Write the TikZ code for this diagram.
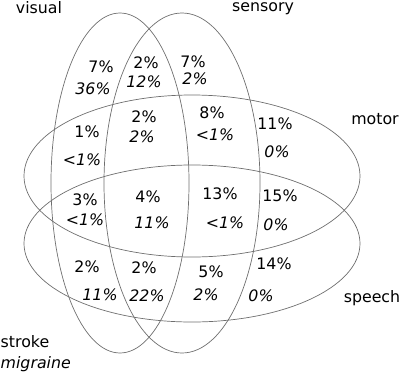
\documentclass[tikz,border=0pt]{standalone}
\usepackage{fontspec}
\setmainfont{DejaVu Sans}
\definecolor{ringgray}{RGB}{110,110,110}
\tikzset{
  ring/.style={draw=ringgray,line width=0.7pt},
  pct/.style={font=\fontsize{15.8}{18}\selectfont,inner sep=0pt},
  mig/.style={font=\fontsize{15.8}{18}\selectfont\itshape,inner sep=0pt},
  setname/.style={font=\fontsize{15.8}{18}\selectfont,inner sep=0pt}
}
\begin{document}
\begin{tikzpicture}[x=1pt,y=-1pt]
\useasboundingbox (0,0) rectangle (400,373);

% the four sets
\coordinate (cvis) at (120,183);
\coordinate (csen) at (182,183);
\coordinate (cmot) at (192,176);
\coordinate (cspe) at (192,243.5);
\draw[ring] (cvis) ellipse [x radius=69, y radius=170];
\draw[ring] (csen) ellipse [x radius=78, y radius=170];
\draw[ring] (cmot) ellipse [x radius=168, y radius=81];
\draw[ring] (cspe) ellipse [x radius=168, y radius=78.5];

% set names
\node[setname] (visual) at (39,8) {visual};
\node[setname] (sensory) at (263,9) {sensory};
\node[setname] (motor) at (375,119) {motor};
\node[setname] (speech) at (372,298) {speech};
\node[setname,anchor=west] (stroke) at (0.5,342) {stroke};
\node[setname,anchor=west,font=\fontsize{15.8}{18}\selectfont\itshape] (migraine) at (0.5,364) {migraine};

% stroke (upright) and migraine (italic) shares
\node[pct] (s1) at (101,67) {7\%};   \node[mig] (m1) at (93,89) {36\%};
\node[pct] (s2) at (146,63) {2\%};   \node[mig] (m2) at (144,82) {12\%};
\node[pct] (s3) at (193,62) {7\%};   \node[mig] (m3) at (195,79) {2\%};
\node[pct] (s4) at (87,132) {1\%};   \node[mig] (m4) at (82,160) {<1\%};
\node[pct] (s5) at (144,117) {2\%};  \node[mig] (m5) at (142,137) {2\%};
\node[pct] (s6) at (212,113) {8\%};  \node[mig] (m6) at (215,135) {<1\%};
\node[pct] (s7) at (275,124) {11\%}; \node[mig] (m7) at (277,152) {0\%};
\node[pct] (s8) at (85,200) {3\%};   \node[mig] (m8) at (85,220) {<1\%};
\node[pct] (s9) at (148,197) {4\%};  \node[mig] (m9) at (152,223) {11\%};
\node[pct] (s10) at (220,194) {13\%}; \node[mig] (m10) at (225,223) {<1\%};
\node[pct] (s11) at (280,196) {15\%}; \node[mig] (m11) at (276,225) {0\%};
\node[pct] (s12) at (87,267) {2\%};  \node[mig] (m12) at (100,295) {11\%};
\node[pct] (s13) at (144,268) {2\%}; \node[mig] (m13) at (147,296) {22\%};
\node[pct] (s14) at (211,272) {5\%}; \node[mig] (m14) at (206,295) {2\%};
\node[pct] (s15) at (274,264) {14\%}; \node[mig] (m15) at (261,296) {0\%};
\end{tikzpicture}
\end{document}
